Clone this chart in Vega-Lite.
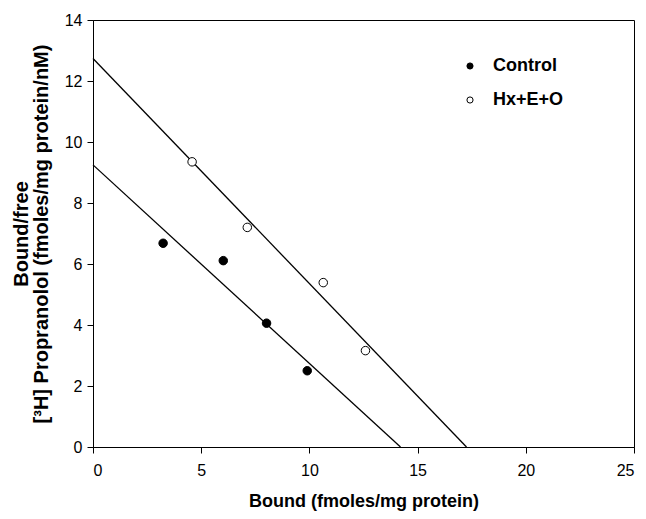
{
  "$schema": "https://vega.github.io/schema/vega-lite/v6.json",
  "autosize": "none",
  "width": 541,
  "height": 427,
  "padding": {"left": 93, "top": 20, "right": 12, "bottom": 72},
  "background": "white",
  "config": {
    "font": "Liberation Sans",
    "view": {"stroke": "black", "strokeWidth": 1},
    "axis": {
      "grid": false,
      "domainColor": "black",
      "tickColor": "black",
      "tickSize": 6,
      "labelFont": "Liberation Sans",
      "labelFontSize": 16,
      "labelColor": "black",
      "titleFont": "Liberation Sans",
      "titleFontSize": 18,
      "titleFontWeight": "bold",
      "titleColor": "black"
    }
  },
  "datasets": {
    "points": [
      {"group": "Control", "bound": 3.24, "ratio": 6.68},
      {"group": "Control", "bound": 6.02, "ratio": 6.11},
      {"group": "Control", "bound": 8.02, "ratio": 4.06},
      {"group": "Control", "bound": 9.9, "ratio": 2.5},
      {"group": "Hx+E+O", "bound": 4.58, "ratio": 9.35},
      {"group": "Hx+E+O", "bound": 7.13, "ratio": 7.2},
      {"group": "Hx+E+O", "bound": 10.64, "ratio": 5.39},
      {"group": "Hx+E+O", "bound": 12.59, "ratio": 3.16}
    ],
    "fits": [
      {"group": "Control", "bound": 0, "ratio": 9.25},
      {"group": "Control", "bound": 14.21, "ratio": 0},
      {"group": "Hx+E+O", "bound": 0, "ratio": 12.74},
      {"group": "Hx+E+O", "bound": 17.26, "ratio": 0}
    ]
  },
  "layer": [
    {
      "data": {"name": "fits"},
      "mark": {"type": "line", "color": "black", "strokeWidth": 1.3},
      "encoding": {
        "x": {"field": "bound", "type": "quantitative"},
        "y": {"field": "ratio", "type": "quantitative"},
        "detail": {"field": "group"}
      }
    },
    {
      "data": {"name": "points"},
      "mark": {"type": "point", "shape": "circle", "filled": true, "stroke": "black", "strokeWidth": 1, "size": 72, "opacity": 1},
      "encoding": {
        "x": {
          "field": "bound", "type": "quantitative",
          "scale": {"domain": [0, 25], "nice": false},
          "axis": {"values": [0, 5, 10, 15, 20, 25], "title": "Bound (fmoles/mg protein)", "labelPadding": 9, "titlePadding": 14}
        },
        "y": {
          "field": "ratio", "type": "quantitative",
          "scale": {"domain": [0, 14], "nice": false},
          "axis": {"values": [0, 2, 4, 6, 8, 10, 12, 14], "title": ["Bound/free", "[³H] Propranolol (fmoles/mg protein/nM)"], "titleFontSize": 20, "labelPadding": 5, "titlePadding": 13, "titleLineHeight": 20}
        },
        "fill": {
          "field": "group", "type": "nominal",
          "scale": {"domain": ["Control", "Hx+E+O"], "range": ["black", "white"]},
          "legend": {
            "title": null,
            "orient": "none",
            "legendX": 368,
            "legendY": 37,
            "symbolType": "circle",
            "symbolSize": 38,
            "symbolStrokeColor": "black",
            "symbolStrokeWidth": 1,
            "labelFont": "Liberation Sans",
            "labelFontSize": 18,
            "labelFontWeight": "bold",
            "labelColor": "black",
            "labelOffset": 14,
            "rowPadding": 16
          }
        }
      }
    }
  ]
}
